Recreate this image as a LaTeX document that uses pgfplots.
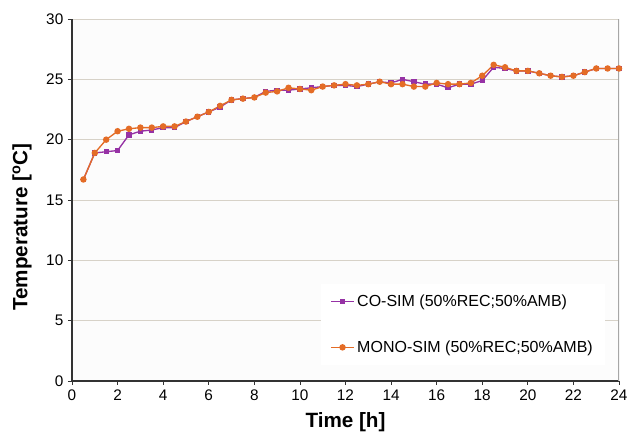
\documentclass[border=0pt]{standalone}
\usepackage{pgfplots}
\pgfplotsset{compat=1.18}
\usepackage{fontspec}
\setmainfont{Liberation Sans}
\definecolor{mono}{RGB}{228,108,38}
\definecolor{cosim}{RGB}{150,50,165}
\definecolor{gridc}{RGB}{215,210,200}
\begin{document}
\begin{tikzpicture}[x=1pt,y=1pt]
\useasboundingbox (-54,-40.5) rectangle (417,285.75);
\begin{axis}[
  at={(0,0)}, anchor=south west,
  scale only axis, width=410.25pt, height=271.5pt,
  xmin=0, xmax=24, ymin=0, ymax=30,
  xtick={0,2,...,24}, ytick={0,5,...,30},
  axis x line*=bottom, axis y line*=left,
  axis line style={draw=black!80, line width=0.8pt},
  tick style={draw=black!80, line width=0.6pt},
  xtick align=outside, ytick align=outside,
  major tick length=3pt,
  ymajorgrids, grid style={draw=gridc, line width=0.7pt},
  axis background/.style={fill=black!1},
  tick label style={font=\fontsize{11.5}{13}\selectfont},
  /pgf/number format/assume math mode=true,
  xlabel={\textbf{Time [h]}}, ylabel={\textbf{Temperature [\textsuperscript{o}C]}},
  label style={font=\fontsize{15.5}{17}\selectfont},
  xlabel style={at={(axis description cs:0.5,-0.114)}, anchor=center},
  ylabel style={at={(axis description cs:-0.0914,0.425)}, anchor=center},
  legend style={at={(axis description cs:0.455,0.044)}, anchor=south west, draw=none, fill=white,
    font=\fontsize{12}{14}\selectfont, row sep=20pt, inner xsep=7pt, inner ysep=6pt,
    legend cell align=left},
]
\draw[black!35, line width=1.2pt] (rel axis cs:1,0) -- (rel axis cs:1,1);
\addplot[cosim, line width=1pt, mark=square*, mark size=1.5pt, mark options={fill=cosim}] coordinates {
(0.5,16.7)(1,18.9)(1.5,19.0)(2,19.1)(2.5,20.4)(3,20.7)(3.5,20.8)(4,21.0)(4.5,21.0)(5,21.5)
(5.5,21.9)(6,22.3)(6.5,22.7)(7,23.3)(7.5,23.4)(8,23.5)(8.5,24.0)(9,24.1)(9.5,24.1)(10,24.2)
(10.5,24.3)(11,24.4)(11.5,24.5)(12,24.5)(12.5,24.4)(13,24.6)(13.5,24.8)(14,24.7)(14.5,25.0)(15,24.8)
(15.5,24.6)(16,24.6)(16.5,24.3)(17,24.6)(17.5,24.6)(18,24.9)(18.5,26.0)(19,25.9)(19.5,25.7)(20,25.7)
(20.5,25.5)(21,25.3)(21.5,25.2)(22,25.3)(22.5,25.6)(23,25.9)(23.5,25.9)(24,25.9)};
\addlegendentry{CO-SIM (50\%REC;50\%AMB)}
\addplot[mono, line width=1pt, mark=*, mark size=1.9pt, mark options={fill=mono}] coordinates {
(0.5,16.7)(1,18.9)(1.5,20.0)(2,20.7)(2.5,20.9)(3,21.0)(3.5,21.0)(4,21.1)(4.5,21.1)(5,21.5)
(5.5,21.9)(6,22.3)(6.5,22.8)(7,23.3)(7.5,23.4)(8,23.5)(8.5,23.9)(9,24.0)(9.5,24.3)(10,24.2)
(10.5,24.1)(11,24.4)(11.5,24.5)(12,24.6)(12.5,24.5)(13,24.6)(13.5,24.8)(14,24.6)(14.5,24.6)(15,24.4)
(15.5,24.4)(16,24.7)(16.5,24.6)(17,24.6)(17.5,24.7)(18,25.3)(18.5,26.2)(19,26.0)(19.5,25.7)(20,25.7)
(20.5,25.5)(21,25.3)(21.5,25.2)(22,25.3)(22.5,25.6)(23,25.9)(23.5,25.9)(24,25.9)};
\addlegendentry{MONO-SIM (50\%REC;50\%AMB)}
\end{axis}
\end{tikzpicture}
\end{document}
